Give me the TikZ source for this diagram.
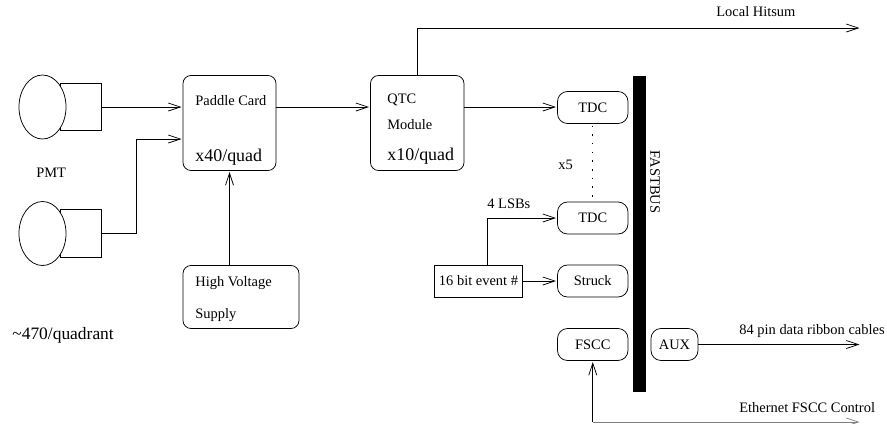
\documentclass[tikz,border=0pt]{standalone}
\usepackage{fontspec}
\setmainfont{Liberation Serif}
\usetikzlibrary{arrows.meta,calc,positioning,shapes.geometric}
\tikzset{
    modbox/.style={draw, rounded corners=8bp, inner sep=0pt, outer sep=0pt},
    pillbox/.style={modbox, rounded corners=10bp, minimum height=32bp},
    tubebox/.style={draw, inner sep=0pt, outer sep=0pt},
    tubeface/.style={draw, fill=white, ellipse, inner sep=0pt, outer sep=0pt, minimum width=47bp, minimum height=64bp},
    lab/.style={anchor=west, inner sep=0pt},
    biglab/.style={anchor=west, inner sep=0pt, font=\fontsize{18}{20}\selectfont},
    sig/.style={-{Straight Barb[length=12bp,width=8bp]}, shorten >=1.5bp}
}

\begin{document}
\begin{tikzpicture}[x=1bp, y=-1bp, line width=0.75bp, every node/.style={text=black, font=\fontsize{14.5}{16}\selectfont}]
        \useasboundingbox (0,0) rectangle (887,423);

        % PMTs
        \node[tubebox, minimum width=41bp, minimum height=47.5bp] (tubeA) at (80.5,107) {};
        \node[tubeface] (faceA) at (42.5,107) {};
        \node[tubebox, minimum width=41bp, minimum height=47.5bp] (tubeB) at (80.5,233.5) {};
        \node[tubeface] (faceB) at (42.5,233.5) {};
        \node[lab] (pmtlab) at (36,173) {PMT};
        \node[biglab, font=\fontsize{17.5}{20}\selectfont] (countlab) at (12,335) {\~{}470/quadrant};

        % Paddle card and HV
        \node[modbox, minimum width=93bp, minimum height=95bp] (paddle) at (229.5,123) {};
        \node[lab] (paddleA) at (195,101) {Paddle Card};
        \node[biglab] (paddleB) at (195,157) {x40/quad};
        \node[modbox, minimum width=116bp, minimum height=63bp] (hv) at (241,297) {};
        \node[lab] (hvA) at (195,283) {High Voltage};
        \node[lab] (hvB) at (195,315) {Supply};
        \coordinate (padlow) at (183,139);
        \coordinate (hvtop) at (229.5,265.5);

        % QTC
        \node[modbox, minimum width=93.5bp, minimum height=95bp] (qtc) at (417.25,123) {};
        \node[lab] (qtcA) at (387,100) {QTC};
        \node[lab] (qtcB) at (387,125) {Module};
        \node[biglab] (qtcC) at (387,156) {x10/quad};

        % Fastbus
        \node[fill=black, inner sep=0pt, outer sep=0pt, minimum width=13bp, minimum height=316.5bp] (bus) at (639.5,233.75) {};
        \node[lab, anchor=center, rotate=-90] (buslab) at (655,182) {FASTBUS};

        % Crate modules
        \node[pillbox, minimum width=70.5bp] (tdcA) at (592.75,107.5) {TDC};
        \node[pillbox, minimum width=70.5bp] (tdcB) at (592.75,218) {TDC};
        \node[pillbox, minimum width=70.5bp] (struck) at (592.75,281) {Struck};
        \node[pillbox, minimum width=70.5bp] (fscc) at (592.75,344.5) {FSCC};
        \node[pillbox, minimum width=47bp] (aux) at (674.5,344.5) {AUX};
        \node[tubebox, minimum width=88bp, minimum height=32bp] (event) at (478.5,281) {16 bit event \#};
        \node[lab] (x5lab) at (558,165) {x5};
        \node[lab] (lsblab) at (487,204) {4 LSBs};

        % Outgoing
        \coordinate (hitend) at (861,28);
        \coordinate (auxend) at (861,344.5);
        \coordinate (ethend) at (861,422);
        \node[lab] (hitlab) at (716,12) {Local Hitsum};
        \node[lab] (auxlab) at (739,331) {84 pin data ribbon cables};
        \node[lab] (ethlab) at (739,408) {Ethernet FSCC Control};

        % Connectors
        \draw[sig] (tubeA.east) -- (tubeA.east -| paddle.west);
        \draw[sig] (tubeB.east) -| (136,139) -- (padlow);
        \draw[sig] (hvtop) -- (hvtop |- paddle.south);
        \draw[sig] (paddle.east |- tubeA.east) -- (qtc.west |- tubeA.east);
        \draw[sig] (qtc.east |- tubeA.east) -- (tdcA.west |- tubeA.east);
        \draw[sig] (qtc.north) -- (qtc.north |- hitend) -- (hitend);
        \draw[sig] (event.east) -- (struck.west);
        \draw[sig] (487.5,265) |- (tdcB.west);
        \draw[line width=1.2bp, dash pattern=on 1.5bp off 7.2bp] (tdcA.south) ++(0,2) -- (tdcB.north);
        \draw[sig] (aux.east) -- (auxend);
        \draw[sig] (fscc.south |- ethend) -- (fscc.south);
        \draw[sig, draw=black!50] (fscc.south |- ethend) -- (ethend);
\end{tikzpicture}
\end{document}
